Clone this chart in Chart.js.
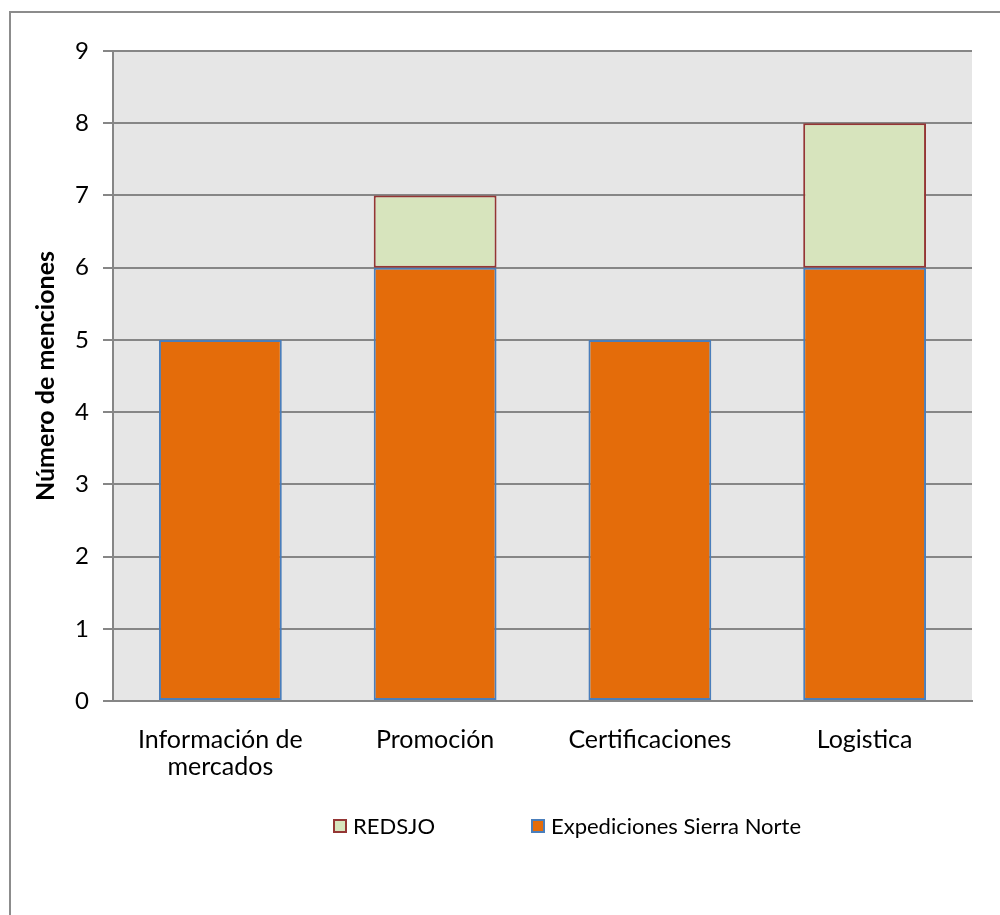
<!DOCTYPE html>
<html>
<head>
<meta charset="utf-8">
<script src="https://cdn.jsdelivr.net/npm/chart.js@4"></script>
<style>
    body { margin: 0; background: #fff; font-family: Lato, "Open Sans", sans-serif; }
    #wrap { position: relative; width: 1000px; height: 915px; overflow: hidden; }
    #frame { position: absolute; left: 9px; top: 11px; width: 1100px; height: 1100px; border: 2px solid #8c8c8c; box-sizing: border-box; }
    #chart { position: absolute; left: 0; top: 0; }
    #legend { position: absolute; left: 333px; top: 812px; display: flex; font-size: 22px; color: #000; }
    .legend-item { display: flex; align-items: center; }
    .legend-item:first-child { width: 198px; }
    .legend-box { width: 10px; height: 10px; border: 2px solid; margin-right: 6px; }
</style>
</head>
<body>
<div id="wrap">
    <div id="frame"></div>
    <canvas id="chart" width="1000" height="915"></canvas>
    <div id="legend"></div>
</div>
<script>
const categories = [["Información de", "mercados"], "Promoción", "Certificaciones", "Logistica"];
const expediciones = [5, 6, 5, 6];
const redsjo = [0, 1, 0, 2];
const yTicks = [0, 1, 2, 3, 4, 5, 6, 7, 8, 9];

const FONT = "Lato, 'Open Sans', sans-serif";
const GRID = "#868686";

const plotBackground = {
    id: "plotBackground",
    beforeDraw(chart) {
        const { ctx, chartArea: a } = chart;
        ctx.save();
        ctx.fillStyle = "#e6e6e6";
        ctx.fillRect(a.left, a.top, a.right - a.left, a.bottom - a.top);
        ctx.restore();
    }
};

const datasets = [
    { label: "Expediciones Sierra Norte", data: expediciones, backgroundColor: "#e46c0a", borderColor: "#4a7ebb", borderWidth: 2, borderSkipped: false },
    { label: "REDSJO", data: redsjo, backgroundColor: "#d7e4bd", borderColor: "#943634", borderWidth: 2, borderSkipped: false }
];

const chart = new Chart(document.getElementById("chart"), {
    type: "bar",
    data: { labels: categories, datasets },
    options: {
        responsive: false,
        animation: false,
        layout: { padding: { top: 51, right: 28, left: 0, bottom: 0 } },
        datasets: { bar: { categoryPercentage: 1, barPercentage: 0.572 } },
        plugins: { legend: { display: false }, tooltip: { enabled: false } },
        scales: {
            x: {
                stacked: true,
                grid: { display: false, drawTicks: false },
                border: { display: true, color: GRID, width: 2 },
                ticks: { color: "#000", padding: 25, font: { family: FONT, size: 25, lineHeight: 1.1 } },
                afterFit: s => { s.height = 214; }
            },
            y: {
                stacked: true,
                min: 0,
                max: 9,
                afterBuildTicks: s => { s.ticks = yTicks.map(v => ({ value: v })); },
                grid: { color: GRID, lineWidth: 2, tickLength: 10 },
                border: { display: true, color: GRID, width: 2 },
                ticks: { color: "#000", padding: 14, font: { family: FONT, size: 24 } },
                title: { display: true, text: "Número de menciones", color: "#000", padding: { top: 31, bottom: 0 }, font: { family: FONT, size: 25, weight: "bold" } },
                afterFit: s => { s.width = 113; }
            }
        }
    },
    plugins: [plotBackground]
});

document.getElementById("legend").innerHTML = datasets.slice().reverse().map(d => `
    <div class="legend-item"><span class="legend-box" style="background:${d.backgroundColor};border-color:${d.borderColor}"></span>${d.label}</div>
`).join("");
</script>
</body>
</html>
